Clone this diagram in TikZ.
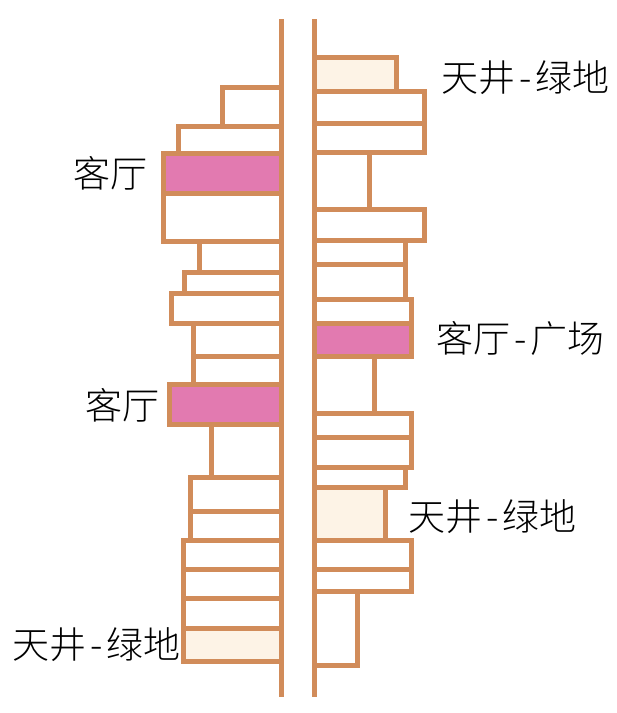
\documentclass[tikz,border=0pt]{standalone}
\usepackage{fontspec}
\usepackage{xcolor}
\usepackage{tikz}
\newfontfamily\cjk[UprightFont={* Light}]{Noto Sans CJK SC}
\definecolor{wallbrown}{RGB}{209,140,90}
\definecolor{hallpink}{RGB}{226,122,176}
\definecolor{yardcream}{RGB}{253,243,230}
\newcommand\dashgap{\hspace{4pt}-\hspace{4pt}}

\begin{document}
\begin{tikzpicture}[x=1pt,y=-1pt,line width=5pt,
  unit/.style={draw=wallbrown,fill=white},
  lbl/.style={font=\cjk\fontsize{37}{40}\selectfont,inner sep=0pt}]
  \useasboundingbox (0,0) rectangle (617,713);
  \foreach \l/\t/\b/\c in {222/87/126/white,178/126/153/white,163/153/193/hallpink,
      163/193/241/white,199/241/272/white,184/272/293/white,171/293/323/white,
      193/323/356/white,193/356/384/white,169/384/424/hallpink,211/424/477/white,
      190/477/511/white,190/511/540/white,183/540/569/white,183/569/598/white,
      183/598/628/white,183/628/661/yardcream}{
    \draw[unit,fill=\c] (\l,\t) rectangle (281,\b);
  }
  \foreach \r/\t/\b/\c in {396/57/91/yardcream,424/91/123/white,424/123/152/white,
      369/152/209/white,424/209/240/white,405/240/264/white,405/264/299/white,
      411/299/323/white,411/323/356/hallpink,374/356/413/white,411/413/437/white,
      411/437/467/white,405/467/487/white,385/487/540/yardcream,411/540/569/white,
      411/569/591/white,357/591/665/white}{
    \draw[unit,fill=\c] (314,\t) rectangle (\r,\b);
  }
  \draw[wallbrown] (281,19) -- (281,697);
  \draw[wallbrown] (314,19) -- (314,697);
  \node[lbl,anchor=east] (hallA) at (150,173) {客厅};
  \node[lbl,anchor=east] (hallB) at (162,405) {客厅};
  \node[lbl,anchor=west] (yardA) at (439,78) {天井\dashgap 绿地};
  \node[lbl,anchor=west] (plaza) at (434,338) {客厅\dashgap 广场};
  \node[lbl,anchor=west] (yardB) at (406,517) {天井\dashgap 绿地};
  \node[lbl,anchor=west] (yardC) at (10,645) {天井\dashgap 绿地};
\end{tikzpicture}
\end{document}
